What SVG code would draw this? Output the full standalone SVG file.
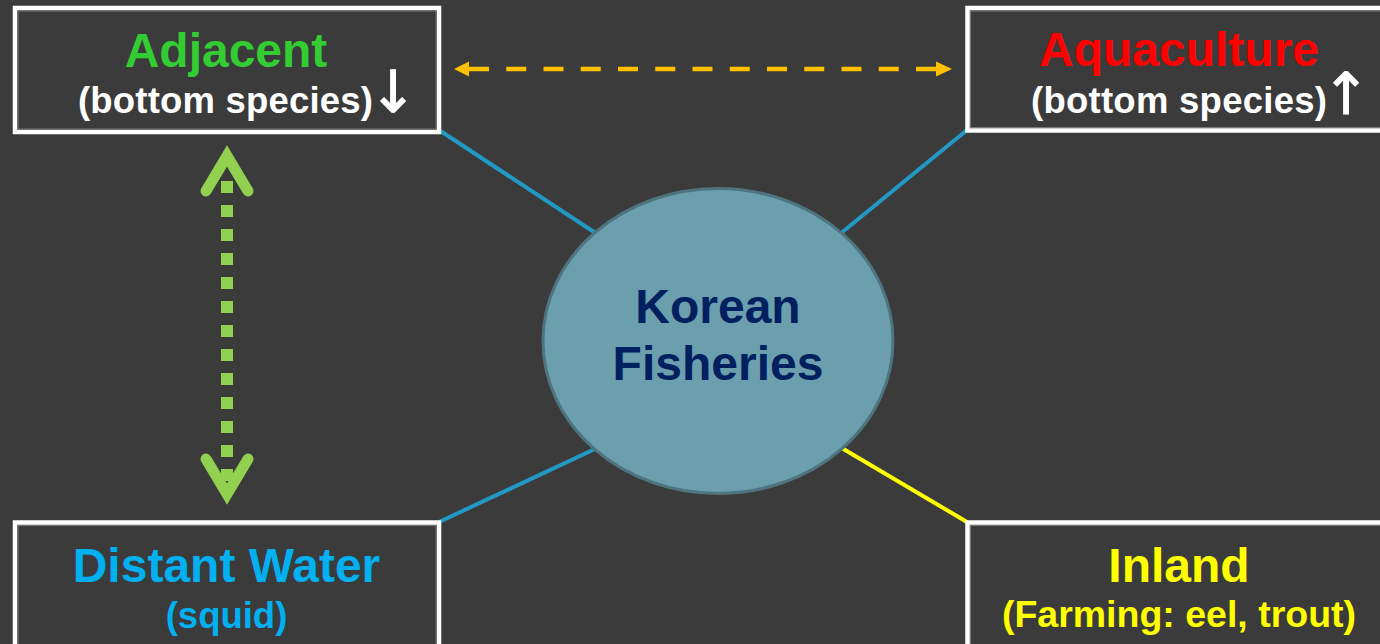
<svg xmlns="http://www.w3.org/2000/svg" width="1380" height="644" viewBox="0 0 1380 644">
  <style>
    .box { fill: #3b3b3b; stroke: #ffffff; stroke-width: 4.5; }
    .inner { fill: none; stroke: #7a7a7a; stroke-width: 1; }
    .t { font-family: "Liberation Sans", Arial, sans-serif; font-weight: bold; text-anchor: middle; }
    .big { font-size: 48px; }
    .sub { font-size: 36.5px; }
    .link { stroke-width: 4; fill: none; }
    .glyph { font-family: "DejaVu Sans", sans-serif; font-weight: normal; }
  </style>
  <rect width="1380" height="644" fill="#3b3b3b"/>

  <g id="connectors">
    <line class="link" x1="439" y1="130" x2="597" y2="234" stroke="#2299c5"/>
    <line class="link" x1="967" y1="130" x2="840" y2="234" stroke="#2299c5"/>
    <line class="link" x1="439" y1="522" x2="597" y2="448" stroke="#2299c5"/>
    <line class="link" x1="967" y1="522" x2="840" y2="447" stroke="#ffff00"/>
    <g id="adjacent-aquaculture">
      <line x1="469" y1="69" x2="936" y2="69" stroke="#ffc000" stroke-width="4.5" stroke-dasharray="20 17.25"/>
      <polygon points="454,69 469,61.5 469,76.5" fill="#ffc000"/>
      <polygon points="952,69 936,61.5 936,76.5" fill="#ffc000"/>
    </g>
    <g id="adjacent-distant">
      <line x1="227" y1="181" x2="227" y2="492" stroke="#92d050" stroke-width="12" stroke-dasharray="12 12"/>
      <path d="M206,191 L227,156 L248,191" fill="none" stroke="#92d050" stroke-width="11" stroke-linecap="round" stroke-linejoin="miter" stroke-miterlimit="10"/>
      <path d="M206,459 L227,494 L248,459" fill="none" stroke="#92d050" stroke-width="11" stroke-linecap="round" stroke-linejoin="miter" stroke-miterlimit="10"/>
    </g>
  </g>

  <g id="adjacent">
    <rect class="box" x="15" y="8" width="424" height="124"/>
    <rect class="inner" x="18" y="11" width="418" height="118"/>
    <text class="t big" x="226" y="67" fill="#33cc33">Adjacent</text>
    <text class="t sub" x="78" y="113" fill="#ffffff" style="text-anchor:start" textLength="295" lengthAdjust="spacing">(bottom species)</text>
    <text class="t glyph" x="393" y="112" font-size="58" fill="#ffffff" stroke="#ffffff" stroke-width="1">↓</text>
  </g>

  <g id="aquaculture">
    <rect class="box" x="967.5" y="8" width="500" height="122.5"/>
    <rect class="inner" x="970.5" y="11" width="500" height="116.5"/>
    <text class="t big" x="1179" y="66" fill="#ff0000">Aquaculture</text>
    <text class="t sub" x="1031" y="113" fill="#ffffff" style="text-anchor:start" textLength="296" lengthAdjust="spacing">(bottom species)</text>
    <text class="t glyph" x="1346" y="114" font-size="58" fill="#ffffff" stroke="#ffffff" stroke-width="1">↑</text>
  </g>

  <g id="distant-water">
    <rect class="box" x="15" y="522.5" width="424" height="200"/>
    <rect class="inner" x="18" y="525.5" width="418" height="200"/>
    <text class="t big" x="226.5" y="582" fill="#00b0f0">Distant Water</text>
    <text class="t sub" x="226.5" y="628" fill="#00b0f0">(squid)</text>
  </g>

  <g id="inland">
    <rect class="box" x="967.5" y="522.5" width="500" height="200"/>
    <rect class="inner" x="970.5" y="525.5" width="500" height="200"/>
    <text class="t big" x="1179" y="582" fill="#ffff00">Inland</text>
    <text class="t" x="1179" y="627" font-size="37.5" fill="#ffff00">(Farming: eel, trout)</text>
  </g>

  <g id="korean-fisheries">
    <ellipse cx="718" cy="341" rx="175" ry="152.5" fill="#6b9fae" stroke="#4e7480" stroke-width="3"/>
    <text class="t big" x="718" y="323" fill="#002060">Korean</text>
    <text class="t big" x="718" y="380" fill="#002060">Fisheries</text>
  </g>
</svg>
